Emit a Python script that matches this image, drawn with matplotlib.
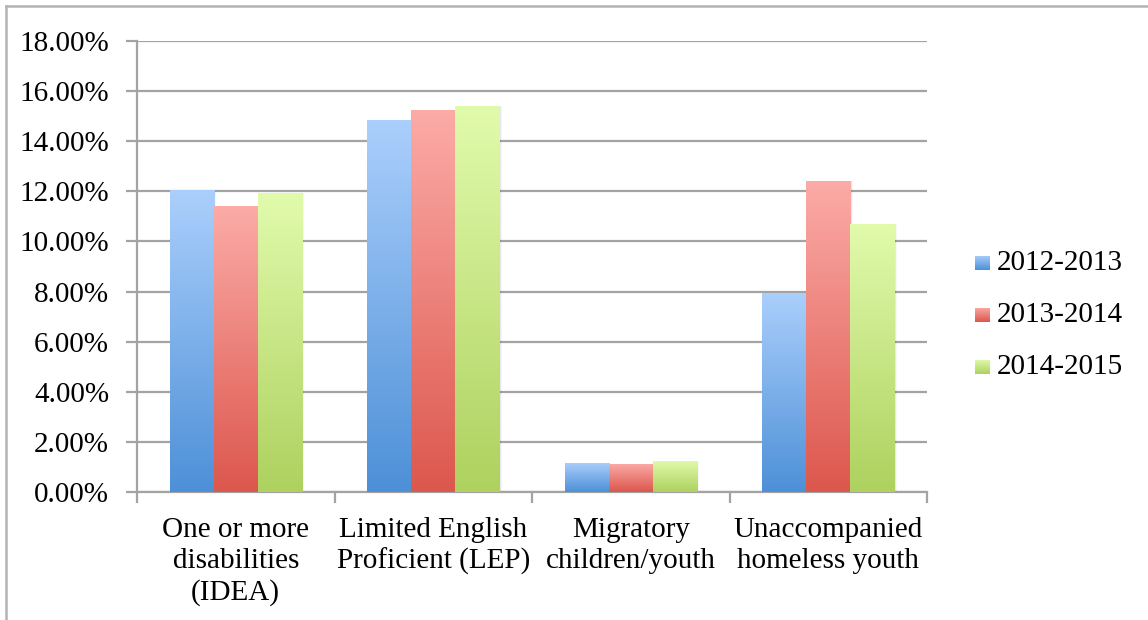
import numpy as np
import matplotlib.pyplot as plt
from matplotlib.colors import LinearSegmentedColormap
from matplotlib.lines import Line2D

categories = ["One or more\ndisabilities\n(IDEA)", "Limited English\nProficient (LEP)",
              "Migratory\nchildren/youth", "Unaccompanied\nhomeless youth"]
years = ["2012-2013", "2013-2014", "2014-2015"]
v_2012 = [0.1205, 0.1483, 0.0116, 0.0795]
v_2013 = [0.1140, 0.1523, 0.0112, 0.1243]
v_2014 = [0.1193, 0.1539, 0.0124, 0.1071]
series = [v_2012, v_2013, v_2014]

# (top, bottom) gradient colours
grads = [("#abcffc", "#4d90d7"), ("#fcaba7", "#dc574d"), ("#e1fbac", "#aed15f")]

plt.rcParams['font.family'] = ['Liberation Serif', 'DejaVu Serif']
fs = 21

fig = plt.figure(figsize=(11.48, 6.2), dpi=100)
ax = fig.add_axes([137/1148, 1 - 492/620, 790/1148, 451/620])

grid_c = "#a3a3a3"
w = 0.223
x = np.arange(len(categories))
grad = np.linspace(1, 0, 256).reshape(-1, 1)

for i, vals in enumerate(series):
    cmap = LinearSegmentedColormap.from_list("g%d" % i, [grads[i][1], grads[i][0]])
    xs = x + (i - 1) * w
    # soft shadow
    for k, a in enumerate([0.10, 0.06, 0.03]):
        ax.bar(xs + 0.004 * (k + 1), vals, w, color="black", alpha=a, lw=0, zorder=2)
    bars = ax.bar(xs, vals, w, color="none", lw=0, zorder=3)
    for b in bars:
        x0, y0 = b.get_x(), b.get_y()
        im = ax.imshow(grad, cmap=cmap, vmin=0, vmax=1, aspect="auto",
                       extent=(x0, x0 + b.get_width(), y0, y0 + b.get_height()),
                       zorder=3, interpolation="bilinear")
        im.set_clip_path(b)

ax.set_xlim(-0.5, len(categories) - 0.5)
ax.set_ylim(0, 0.18)
ax.set_yticks(np.arange(0, 0.181, 0.02))
ax.set_yticklabels(["%.2f%%" % (t * 100) for t in np.arange(0, 0.181, 0.02)])
ax.yaxis.grid(True, color=grid_c, lw=1.6, zorder=1)
ax.set_axisbelow(True)

ax.set_xticks(x)
ax.set_xticklabels(categories, linespacing=1.24)
ax.set_xticks(np.arange(-0.5, len(categories)), minor=True)
ax.tick_params(axis="x", which="major", length=0, pad=18, labelsize=fs)
ax.tick_params(axis="x", which="minor", length=8, width=1.6, color=grid_c, direction="out")
ax.tick_params(axis="y", length=8, width=1.6, color=grid_c, pad=12, labelsize=fs)

for s in ["top", "right"]:
    ax.spines[s].set_visible(False)
for s in ["left", "bottom"]:
    ax.spines[s].set_color(grid_c)
    ax.spines[s].set_linewidth(1.6)

# legend drawn by hand for the gradient swatches
leg_y = [263, 315, 367]
for i, yr in enumerate(years):
    cmap = LinearSegmentedColormap.from_list("l%d" % i, [grads[i][1], grads[i][0]])
    yc = leg_y[i]
    lax = fig.add_axes([975/1148, 1 - (yc + 7.5)/620, 15/1148, 15/620])
    lax.imshow(grad, cmap=cmap, vmin=0, vmax=1, aspect="auto")
    lax.axis("off")
    fig.text(997/1148, 1 - yc/620, yr, fontsize=fs, va="center", ha="left")

# chart frame edges
fig.add_artist(Line2D([6/1148, 1], [1 - 6/620, 1 - 6/620], color="#b3b3b3", lw=1.8))
fig.add_artist(Line2D([6/1148, 6/1148], [0, 1 - 6/620], color="#b3b3b3", lw=1.8))

fig.savefig("out.png", dpi=100)
